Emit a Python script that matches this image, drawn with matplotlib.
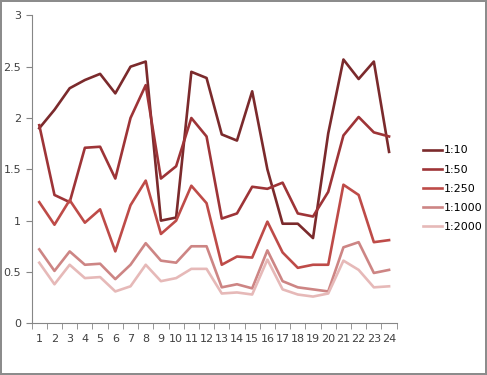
import matplotlib
matplotlib.use("Agg")
import matplotlib.pyplot as plt
from matplotlib.ticker import FixedLocator

# Data
samples = list(range(1, 25))
s_1_10 = [1.90, 2.08, 2.29, 2.37, 2.43, 2.24, 2.50, 2.55, 1.00, 1.03, 2.45, 2.39,
          1.84, 1.78, 2.26, 1.50, 0.97, 0.97, 0.83, 1.85, 2.57, 2.38, 2.55, 1.67]
s_1_50 = [1.93, 1.25, 1.18, 1.71, 1.72, 1.41, 2.00, 2.32, 1.41, 1.53, 2.00, 1.82,
          1.02, 1.07, 1.33, 1.31, 1.37, 1.07, 1.04, 1.28, 1.83, 2.01, 1.86, 1.82]
s_1_250 = [1.18, 0.96, 1.20, 0.98, 1.11, 0.70, 1.15, 1.39, 0.87, 1.00, 1.34, 1.17,
           0.57, 0.65, 0.64, 0.99, 0.69, 0.54, 0.57, 0.57, 1.35, 1.25, 0.79, 0.81]
s_1_1000 = [0.72, 0.51, 0.70, 0.57, 0.58, 0.43, 0.57, 0.78, 0.61, 0.59, 0.75, 0.75,
            0.35, 0.38, 0.34, 0.71, 0.41, 0.35, 0.33, 0.31, 0.74, 0.79, 0.49, 0.52]
s_1_2000 = [0.59, 0.38, 0.57, 0.44, 0.45, 0.31, 0.36, 0.57, 0.41, 0.44, 0.53, 0.53,
            0.29, 0.30, 0.28, 0.62, 0.33, 0.28, 0.26, 0.29, 0.61, 0.52, 0.35, 0.36]

series = [("1:10", s_1_10, "#7b2a2c"),
          ("1:50", s_1_50, "#9e3437"),
          ("1:250", s_1_250, "#be4b48"),
          ("1:1000", s_1_1000, "#cd8584"),
          ("1:2000", s_1_2000, "#e6b9b8")]

fig = plt.figure(figsize=(4.87, 3.75), dpi=100)
fig.patch.set_edgecolor("#8c8c8c")
fig.patch.set_linewidth(1.5)
ax = fig.add_axes([0.065, 0.138, 0.7495, 0.821])

for name, vals, col in series:
    ax.plot(samples, vals, color=col, linewidth=1.9, label=name)

ax.set_xlim(0.5, 24.5)
ax.set_ylim(0, 3)
ax.set_xticks(samples)
ax.xaxis.set_minor_locator(FixedLocator([i + 0.5 for i in range(0, 25)]))
ax.tick_params(axis="x", which="major", length=0, pad=8, labelsize=8, colors="#404040")
ax.tick_params(axis="x", which="minor", length=4, direction="out", color="#868686")
ax.set_yticks([0, 0.5, 1, 1.5, 2, 2.5, 3])
ax.set_yticklabels(["0", "0.5", "1", "1.5", "2", "2.5", "3"])
ax.tick_params(axis="y", length=4, direction="out", color="#868686",
               labelsize=8, labelcolor="#404040")

for side in ("top", "right"):
    ax.spines[side].set_visible(False)
for side in ("left", "bottom"):
    ax.spines[side].set_color("#868686")

ax.legend(loc="upper left", bbox_to_anchor=(1.045, 0.61), frameon=False,
          fontsize=8, handlelength=1.7, handletextpad=0.15, labelspacing=0.82)

fig.savefig("out.png", dpi=100)
